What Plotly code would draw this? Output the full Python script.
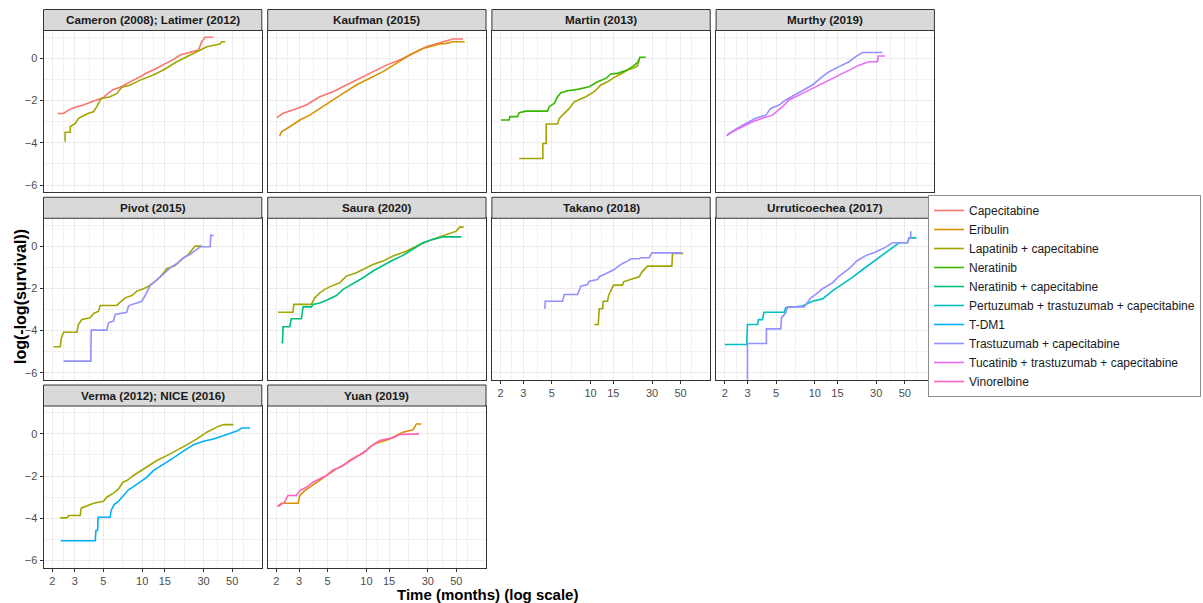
import plotly.graph_objects as go

# ---------------- data (time in months, log(-log(survival))) ----------------
legend_order = [
    "Capecitabine", "Eribulin", "Lapatinib + capecitabine", "Neratinib",
    "Neratinib + capecitabine", "Pertuzumab + trastuzumab + capecitabine",
    "T-DM1", "Trastuzumab + capecitabine",
    "Tucatinib + trastuzumab + capecitabine", "Vinorelbine",
]
series_colors = ["#F8766D", "#D89000", "#A3A500", "#39B600", "#00BF7D",
                 "#00BFC4", "#00B0F6", "#9590FF", "#E76BF3", "#FF62BC"]

panel_titles = ["Cameron (2008); Latimer (2012)", "Kaufman (2015)", "Martin (2013)",
                "Murthy (2019)", "Pivot (2015)", "Saura (2020)", "Takano (2018)",
                "Urruticoechea (2017)", "Verma (2012); NICE (2016)", "Yuan (2019)"]

x_tick_vals = [2, 3, 5, 10, 15, 30, 50]
x_tick_text = ["2", "3", "5", "10", "15", "30", "50"]
x_minor_vals = [2.45, 3.87, 7.07, 12.25, 21.2, 38.7, 61.2]
y_tick_vals = [0, -2, -4, -6]
y_minor_vals = [1, -1, -3, -5]

cameron_cap_t = [2.2, 2.45, 2.6, 2.84, 3.11, 3.5, 4.06, 4.44, 5.0, 5.48, 5.99, 6.75, 7.6, 8.56, 9.65, 10.9, 12.2, 13.8, 15.54, 17.5, 19.72, 22.2, 25.03, 27.36, 29.04, 30.83, 35.8]
cameron_cap_y = [-2.61, -2.61, -2.5, -2.37, -2.29, -2.21, -2.05, -1.97, -1.86, -1.63, -1.47, -1.37, -1.18, -1.03, -0.87, -0.68, -0.55, -0.39, -0.24, -0.05, 0.16, 0.24, 0.32, 0.39, 0.79, 1.0, 1.0]
cameron_lap_t = [2.52, 2.52, 2.76, 2.76, 3.02, 3.2, 3.5, 3.83, 4.19, 4.44, 4.72, 4.86, 5.64, 6.35, 6.95, 8.07, 9.65, 12.2, 14.6, 18.6, 23.6, 28.2, 31.8, 36.9, 40.3, 41.5, 44.1]
cameron_lap_y = [-3.95, -3.5, -3.5, -3.24, -3.08, -2.84, -2.72, -2.6, -2.53, -2.29, -1.97, -1.9, -1.82, -1.66, -1.37, -1.26, -1.03, -0.79, -0.55, -0.16, 0.16, 0.39, 0.55, 0.63, 0.68, 0.79, 0.79]

kaufman_cap_t = [2.02, 2.25, 2.69, 3.42, 4.34, 5.51, 6.99, 8.87, 11.26, 14.29, 18.14, 23.02, 29.21, 39.36, 47.07, 56.3]
kaufman_cap_y = [-2.81, -2.6, -2.45, -2.21, -1.82, -1.58, -1.26, -0.95, -0.63, -0.32, -0.08, 0.24, 0.55, 0.79, 0.92, 0.92]
kaufman_eri_t = [2.12, 2.19, 2.54, 3.04, 3.63, 4.34, 5.19, 6.59, 8.36, 10.61, 13.46, 17.09, 21.68, 27.52, 37.07, 41.79, 47.07, 57.98]
kaufman_eri_y = [-3.68, -3.48, -3.24, -2.92, -2.69, -2.37, -2.05, -1.66, -1.26, -0.95, -0.63, -0.24, 0.16, 0.47, 0.68, 0.71, 0.79, 0.79]

martin_ner_t = [2.01, 2.33, 2.36, 2.71, 2.79, 3.15, 4.63, 4.77, 5.22, 5.54, 5.88, 6.63, 7.92, 9.76, 11.33, 13.15, 14.38, 16.19, 18.8, 21.18, 23.58, 24.15, 26.87]
martin_ner_y = [-2.92, -2.92, -2.76, -2.76, -2.57, -2.5, -2.5, -2.29, -2.13, -1.82, -1.63, -1.53, -1.47, -1.34, -1.11, -0.95, -0.74, -0.71, -0.58, -0.39, -0.16, 0.05, 0.05]
martin_lap_t = [2.79, 4.26, 4.26, 4.52, 4.52, 5.54, 5.71, 6.06, 6.43, 6.83, 7.47, 8.16, 9.2, 10.67, 12.02, 13.54, 15.26, 17.19, 19.37, 21.82, 23.16, 23.58, 23.86]
martin_lap_y = [-4.74, -4.74, -4.03, -4.03, -3.11, -3.11, -2.84, -2.69, -2.53, -2.37, -2.05, -1.94, -1.82, -1.58, -1.26, -1.11, -0.9, -0.74, -0.55, -0.44, -0.36, -0.08, -0.08]

murthy_tra_t = [2.06, 2.16, 2.43, 2.74, 3.09, 3.48, 4.16, 4.55, 5.28, 5.95, 6.91, 8.02, 9.59, 11.47, 12.91, 15.44, 18.46, 20.8, 23.43, 33.5]
murthy_tra_y = [-3.68, -3.55, -3.36, -3.16, -3.0, -2.84, -2.69, -2.37, -2.21, -1.97, -1.74, -1.5, -1.26, -0.87, -0.63, -0.39, -0.16, 0.08, 0.28, 0.28]
murthy_tuc_t = [2.1, 2.29, 2.74, 3.28, 3.92, 4.69, 5.61, 6.32, 7.55, 9.03, 10.8, 12.91, 15.44, 18.46, 22.08, 26.4, 30.64, 31.2, 35.1]
murthy_tuc_y = [-3.63, -3.48, -3.24, -3.0, -2.84, -2.69, -2.29, -1.97, -1.74, -1.5, -1.26, -1.03, -0.79, -0.55, -0.32, -0.16, -0.16, 0.11, 0.11]

pivot_lap_t = [2.05, 2.31, 2.35, 2.45, 3.11, 3.2, 3.4, 3.94, 4.19, 4.58, 4.72, 6.35, 6.75, 7.38, 8.31, 9.09, 10.24, 11.19, 12.2, 13.8, 15.54, 18.03, 20.31, 22.88, 25.78, 29.04]
pivot_lap_y = [-4.77, -4.77, -4.38, -4.08, -4.08, -3.71, -3.48, -3.4, -3.19, -3.08, -2.81, -2.81, -2.65, -2.45, -2.34, -2.13, -2.02, -1.9, -1.74, -1.45, -1.07, -0.92, -0.63, -0.39, 0.0, 0.0]
pivot_tra_t = [2.45, 3.99, 4.02, 5.31, 5.48, 5.99, 6.17, 7.6, 7.83, 8.31, 9.09, 9.94, 10.55, 10.9, 11.53, 12.99, 14.6, 16.49, 18.6, 20.92, 23.6, 26.6, 28.2, 33.7, 34.11, 35.8]
pivot_tra_y = [-5.45, -5.45, -3.98, -3.98, -3.63, -3.55, -3.24, -3.13, -2.84, -2.76, -2.69, -2.61, -2.34, -2.13, -1.86, -1.61, -1.34, -1.03, -0.82, -0.55, -0.39, -0.16, -0.03, -0.03, 0.51, 0.51]

saura_lap_t = [2.06, 2.69, 2.73, 3.74, 3.97, 4.34, 4.75, 5.19, 6.2, 6.99, 8.36, 9.42, 11.26, 13.46, 16.1, 20.44, 25.94, 32.91, 41.79, 49.96, 53.03, 56.96]
saura_lap_y = [-3.13, -3.13, -2.76, -2.76, -2.45, -2.21, -2.05, -1.93, -1.74, -1.42, -1.26, -1.11, -0.87, -0.71, -0.47, -0.24, 0.08, 0.32, 0.55, 0.71, 0.9, 0.9]
saura_nerc_t = [2.19, 2.23, 2.25, 2.54, 2.61, 3.13, 3.22, 3.74, 3.85, 4.34, 5.04, 5.85, 6.59, 7.88, 9.42, 11.26, 13.46, 16.1, 19.25, 23.02, 27.52, 32.91, 39.36, 54.65]
saura_nerc_y = [-4.58, -4.58, -3.82, -3.82, -3.44, -3.44, -2.88, -2.88, -2.76, -2.69, -2.53, -2.34, -2.05, -1.79, -1.5, -1.18, -0.92, -0.66, -0.44, -0.16, 0.16, 0.32, 0.44, 0.44]

takano_tra_t = [4.42, 4.44, 6.06, 6.24, 7.92, 8.16, 8.41, 9.47, 9.76, 11.33, 11.67, 12.76, 13.54, 15.26, 16.19, 17.71, 19.37, 20.56, 23.86, 24.58, 28.53, 29.92, 51.76]
takano_tra_y = [-2.97, -2.61, -2.61, -2.29, -2.29, -2.05, -1.9, -1.82, -1.66, -1.58, -1.45, -1.34, -1.26, -1.11, -0.98, -0.82, -0.71, -0.6, -0.6, -0.55, -0.55, -0.32, -0.32]
takano_lap_t = [10.67, 11.47, 11.67, 12.39, 12.54, 13.54, 13.79, 14.38, 15.08, 17.71, 18.03, 21.18, 23.86, 25.03, 26.57, 27.7, 42.79, 43.3, 52.4]
takano_lap_y = [-3.71, -3.71, -2.97, -2.97, -2.61, -2.61, -2.34, -2.13, -1.85, -1.85, -1.69, -1.55, -1.45, -1.23, -1.06, -0.95, -0.95, -0.35, -0.35]

urru_per_t = [2.0, 2.96, 3.0, 3.59, 3.65, 3.92, 4.04, 5.78, 5.95, 8.02, 9.59, 11.47, 13.71, 16.4, 19.6, 23.43, 28.03, 33.5, 40.06, 45.14, 52.4, 53.98, 61.5]
urru_per_y = [-4.66, -4.66, -3.71, -3.71, -3.48, -3.48, -3.13, -3.13, -2.92, -2.84, -2.61, -2.5, -2.12, -1.82, -1.48, -1.12, -0.76, -0.42, -0.06, 0.16, 0.16, 0.39, 0.39]
urru_tra_t = [3.0, 3.0, 4.21, 4.21, 5.44, 5.51, 5.95, 6.13, 8.26, 9.31, 10.18, 11.47, 13.71, 15.44, 18.46, 21.43, 24.87, 29.75, 35.57, 40.06, 52.4, 53.98, 55.62, 55.62]
urru_tra_y = [-6.5, -4.61, -4.61, -3.92, -3.92, -3.4, -3.16, -2.88, -2.88, -2.45, -2.29, -2.02, -1.74, -1.42, -1.07, -0.68, -0.45, -0.28, -0.05, 0.16, 0.16, 0.39, 0.39, 0.71]

verma_lap_t = [2.31, 2.6, 2.68, 3.3, 3.36, 3.72, 4.19, 5.0, 5.31, 5.99, 6.55, 7.08, 7.6, 8.56, 9.65, 10.9, 12.99, 15.54, 18.6, 22.2, 26.6, 31.8, 37.97, 42.8, 51.15]
verma_lap_y = [-3.98, -3.98, -3.87, -3.87, -3.52, -3.4, -3.29, -3.19, -3.0, -2.81, -2.61, -2.29, -2.21, -1.97, -1.77, -1.55, -1.26, -1.03, -0.79, -0.52, -0.24, 0.08, 0.32, 0.44, 0.44]
verma_tdm_t = [2.33, 4.32, 4.37, 4.5, 4.55, 5.64, 5.74, 6.06, 6.55, 7.16, 7.83, 8.56, 9.65, 10.9, 12.2, 14.6, 17.5, 20.92, 25.03, 29.9, 35.8, 45.41, 54.3, 59.4, 68.9]
verma_tdm_y = [-5.06, -5.06, -4.58, -4.58, -3.95, -3.95, -3.63, -3.35, -3.19, -2.92, -2.65, -2.5, -2.29, -2.05, -1.74, -1.45, -1.14, -0.82, -0.51, -0.35, -0.24, -0.03, 0.13, 0.28, 0.28]

yuan_vin_t = [2.06, 2.19, 2.32, 2.46, 2.86, 3.04, 3.42, 3.85, 4.34, 4.89, 5.51, 6.2, 6.99, 7.88, 8.87, 10.0, 11.26, 12.69, 14.29, 16.1, 18.14, 21.68, 25.63]
yuan_vin_y = [-3.44, -3.35, -3.24, -2.92, -2.92, -2.69, -2.53, -2.29, -2.13, -1.97, -1.71, -1.58, -1.39, -1.18, -0.98, -0.79, -0.51, -0.32, -0.24, -0.19, -0.03, 0.0, 0.0]
yuan_eri_t = [2.04, 2.19, 2.95, 3.04, 3.32, 3.63, 4.09, 4.61, 5.19, 5.85, 6.59, 7.42, 8.36, 9.42, 10.61, 11.95, 13.46, 15.17, 17.09, 19.25, 23.02, 24.44, 26.72]
yuan_eri_y = [-3.44, -3.29, -3.29, -2.92, -2.69, -2.53, -2.29, -2.09, -1.9, -1.66, -1.5, -1.26, -1.07, -0.92, -0.63, -0.44, -0.35, -0.24, -0.08, 0.08, 0.19, 0.47, 0.47]

# panel contents (built from the arrays above)
panel_series = [
    [("Capecitabine", cameron_cap_t, cameron_cap_y), ("Lapatinib + capecitabine", cameron_lap_t, cameron_lap_y)],
    [("Capecitabine", kaufman_cap_t, kaufman_cap_y), ("Eribulin", kaufman_eri_t, kaufman_eri_y)],
    [("Lapatinib + capecitabine", martin_lap_t, martin_lap_y), ("Neratinib", martin_ner_t, martin_ner_y)],
    [("Trastuzumab + capecitabine", murthy_tra_t, murthy_tra_y), ("Tucatinib + trastuzumab + capecitabine", murthy_tuc_t, murthy_tuc_y)],
    [("Lapatinib + capecitabine", pivot_lap_t, pivot_lap_y), ("Trastuzumab + capecitabine", pivot_tra_t, pivot_tra_y)],
    [("Lapatinib + capecitabine", saura_lap_t, saura_lap_y), ("Neratinib + capecitabine", saura_nerc_t, saura_nerc_y)],
    [("Lapatinib + capecitabine", takano_lap_t, takano_lap_y), ("Trastuzumab + capecitabine", takano_tra_t, takano_tra_y)],
    [("Pertuzumab + trastuzumab + capecitabine", urru_per_t, urru_per_y), ("Trastuzumab + capecitabine", urru_tra_t, urru_tra_y)],
    [("Lapatinib + capecitabine", verma_lap_t, verma_lap_y), ("T-DM1", verma_tdm_t, verma_tdm_y)],
    [("Eribulin", yuan_eri_t, yuan_eri_y), ("Vinorelbine", yuan_vin_t, yuan_vin_y)],
]

# ---------------- layout geometry ----------------
W, H = 1203, 603
FONT = "Liberation Sans, Arial, sans-serif"
col_left0, col_step, panel_w = 43.5, 224.2, 218.3
row_top0, row_step, panel_h = 30.5, 187.75, 161.5
strip_h = 21
x_range = [0.2335, 1.929]
y_range = [-6.33, 1.32]

color_of = dict(zip(legend_order, series_colors))

fig = go.Figure()
shown = set()
shapes, annotations = [], []
layout_axes = {}

for i, title in enumerate(panel_titles):
    r, c = divmod(i, 4)
    sfx = "" if i == 0 else str(i + 1)
    for name, t, y in panel_series[i]:
        fig.add_trace(go.Scatter(
            x=t, y=y, mode="lines", name=name, legendgroup=name,
            showlegend=name not in shown,
            legendrank=legend_order.index(name) + 1,
            line=dict(color=color_of[name], width=1.6),
            xaxis="x" + sfx, yaxis="y" + sfx,
        ))
        shown.add(name)

    left = col_left0 + col_step * c
    right = left + panel_w
    top = row_top0 + row_step * r
    bottom = top + panel_h
    show_x = (r == 2) or (r == 1 and c >= 2)
    show_y = (c == 0)

    layout_axes["xaxis" + sfx] = dict(
        type="log", range=x_range, domain=[left / W, right / W],
        anchor="y" + sfx, tickmode="array", tickvals=x_tick_vals, ticktext=x_tick_text,
        showticklabels=show_x, ticks="outside" if show_x else "", ticklen=3,
        tickcolor="#333333", tickfont=dict(family=FONT, size=11, color="#4D4D4D"),
        showgrid=True, gridcolor="#EBEBEB", gridwidth=1.1,
        minor=dict(tickmode="array", tickvals=x_minor_vals, showgrid=True,
                   gridcolor="#F2F2F2", gridwidth=0.6, ticks=""),
        showline=True, mirror=True, linecolor="#333333", linewidth=1,
        zeroline=False,
    )
    layout_axes["yaxis" + sfx] = dict(
        range=y_range, domain=[1 - bottom / H, 1 - top / H],
        anchor="x" + sfx, tickmode="array", tickvals=y_tick_vals,
        showticklabels=show_y, ticks="outside" if show_y else "", ticklen=3,
        tickcolor="#333333", tickfont=dict(family=FONT, size=11, color="#4D4D4D"),
        showgrid=True, gridcolor="#EBEBEB", gridwidth=1.1,
        minor=dict(tickmode="array", tickvals=y_minor_vals, showgrid=True,
                   gridcolor="#F2F2F2", gridwidth=0.6, ticks=""),
        showline=True, mirror=True, linecolor="#333333", linewidth=1,
        zeroline=False,
    )
    shapes.append(dict(type="rect", xref="paper", yref="paper",
                       x0=left / W, x1=right / W,
                       y0=1 - top / H, y1=1 - (top - strip_h) / H,
                       fillcolor="#D9D9D9", line=dict(color="#333333", width=1), layer="above"))
    annotations.append(dict(text=title, xref="paper", yref="paper",
                            x=(left + right) / 2 / W, y=1 - (top - strip_h / 2) / H,
                            xanchor="center", yanchor="middle", showarrow=False,
                            font=dict(family=FONT, size=11.7, color="#1A1A1A", weight="bold")))

annotations.append(dict(text="log(-log(survival))", xref="paper", yref="paper",
                        x=20 / W, y=1 - 297 / H, textangle=-90, showarrow=False,
                        xanchor="center", yanchor="middle",
                        font=dict(family=FONT, size=16, color="#000000", weight="bold")))
annotations.append(dict(text="Time (months) (log scale)", xref="paper", yref="paper",
                        x=488 / W, y=1 - 594 / H, showarrow=False,
                        xanchor="center", yanchor="middle",
                        font=dict(family=FONT, size=15, color="#000000", weight="bold")))

fig.update_layout(
    width=W, height=H, margin=dict(l=0, r=0, t=0, b=0),
    paper_bgcolor="white", plot_bgcolor="white",
    shapes=shapes, annotations=annotations,
    legend=dict(x=1201 / W, y=1 - 296 / H, xanchor="right", yanchor="middle",
                bgcolor="white", bordercolor="#8C8C8C", borderwidth=1,
                font=dict(family=FONT, size=12, color="#1A1A1A"),
                itemwidth=30, tracegroupgap=0),
    showlegend=True,
    **layout_axes,
)

fig.write_html("out.html", config={"displayModeBar": False},
               post_script="document.body.style.margin='0px';")
